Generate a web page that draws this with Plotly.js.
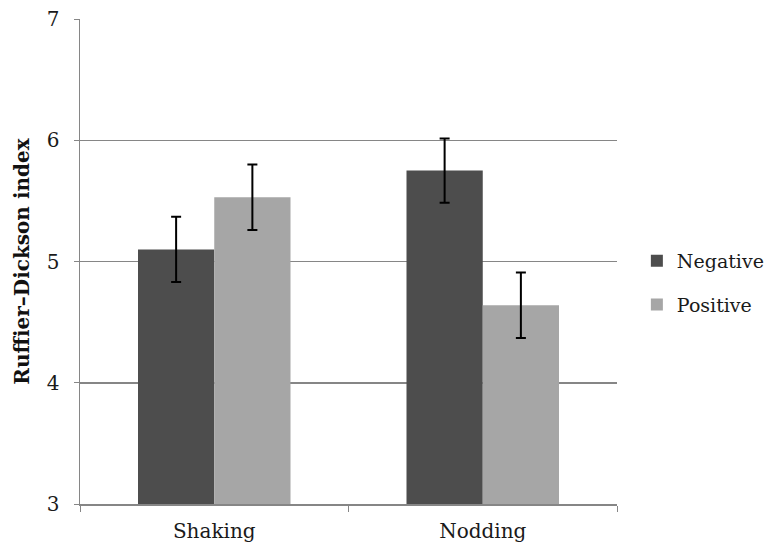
<!DOCTYPE html>
<html>
<head>
<meta charset="utf-8">
<script src="https://cdn.plot.ly/plotly-3.0.1.min.js"></script>
<style>html,body{margin:0;padding:0;background:#fff;}#chart{width:769px;height:545px;}</style>
</head>
<body>
<div id="chart"></div>
<script>
const categories = ["Shaking", "Nodding"];
const seriesNames = ["Negative", "Positive"];
const negativeValues = [5.10, 5.75];
const positiveValues = [5.53, 4.64];
const negativeErrors = [0.27, 0.265];
const positiveErrors = [0.27, 0.27];
const yTickValues = [3, 4, 5, 6, 7];
const yTickLabels = ["3", "4", "5", "6", "7"];

const font = "DejaVu Serif";
const textColor = "#1a1a1a";
const traces = [
  {
    type: "bar", name: seriesNames[0], x: categories, y: negativeValues, legendgroup: "a",
    marker: {color: "#4d4d4d"},
    error_y: {type: "data", array: negativeErrors, visible: true, color: "#000", thickness: 2, width: 5}
  },
  {
    type: "bar", name: seriesNames[1], x: categories, y: positiveValues, legendgroup: "b",
    marker: {color: "#a6a6a6"},
    error_y: {type: "data", array: positiveErrors, visible: true, color: "#000", thickness: 2, width: 5}
  }
];
const layout = {
  width: 769, height: 545,
  margin: {l: 80, r: 152, t: 19, b: 41, autoexpand: false},
  paper_bgcolor: "#fff", plot_bgcolor: "#fff",
  font: {family: font, size: 19, color: textColor},
  barmode: "group", bargap: 0.432, bargroupgap: 0,
  showlegend: true,
  legend: {x: 1.037, y: 0.456, xanchor: "left", yanchor: "middle", traceorder: "grouped", tracegroupgap: 16,
           font: {family: font, size: 19, color: textColor}, itemwidth: 30},
  xaxis: {
    type: "category", showline: true, linecolor: "#868686", linewidth: 1.5,
    ticks: "outside", tickson: "boundaries", ticklen: 6, tickcolor: "#868686",
    ticklabelstandoff: 8,
    tickfont: {family: font, size: 20, color: textColor}, showgrid: false, zeroline: false
  },
  yaxis: {
    range: [3, 7], tickvals: yTickValues, ticktext: yTickLabels,
    showline: true, linecolor: "#868686", linewidth: 1.5,
    ticks: "outside", ticklen: 5, tickcolor: "#868686",
    ticklabelstandoff: 10,
    showgrid: true, gridcolor: "#868686", gridwidth: 1.5, zeroline: false,
    tickfont: {family: font, size: 20, color: textColor},
    title: {text: "Ruffier\u2013Dickson index", font: {family: font, size: 20, color: "#111", weight: "bold"}, standoff: 12}
  }
};
Plotly.newPlot("chart", traces, layout, {displayModeBar: false, staticPlot: true});
</script>
</body>
</html>
